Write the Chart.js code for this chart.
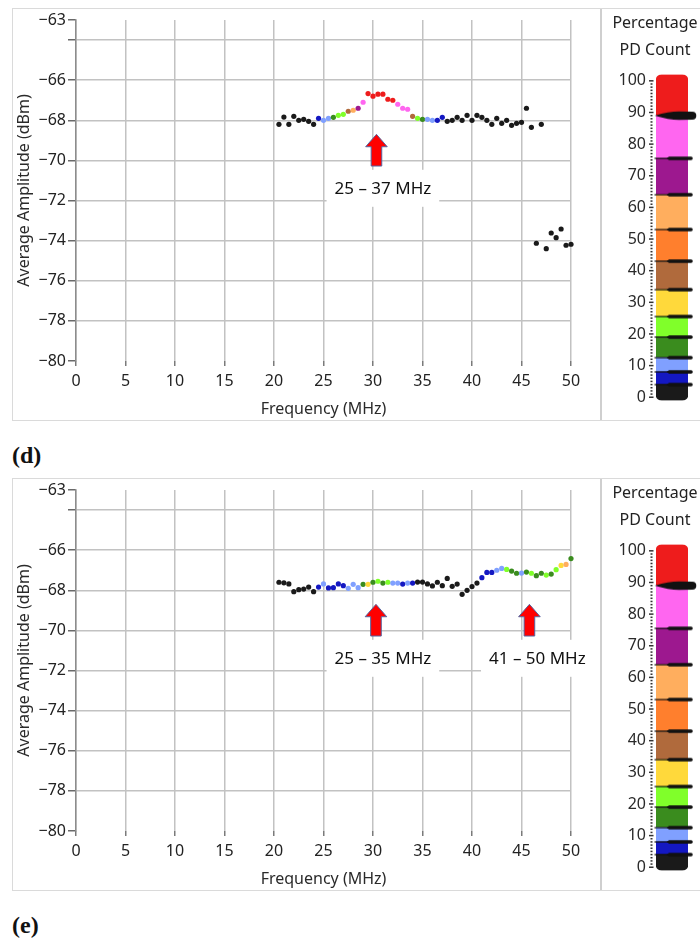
<!DOCTYPE html>
<html>
<head>
<meta charset="utf-8">
<script src="https://cdn.jsdelivr.net/npm/chart.js@4.4.1/dist/chart.umd.min.js"></script>
<style>
html,body{margin:0;padding:0;background:#fff;width:700px;height:940px;overflow:hidden;position:relative}
canvas{position:absolute}
.frame{position:absolute;left:12px;width:700px;height:413px;border:1px solid #dadada;box-sizing:border-box}
.sep{position:absolute;left:600px;width:2px;height:411px;background:#cfcfcf}
.cbtitle{position:absolute;left:601px;width:108px;text-align:center;font:16px "Noto Sans",sans-serif;line-height:27px;color:#222;white-space:nowrap}
.cap{position:absolute;left:12px;font:bold 24px "Liberation Serif","DejaVu Serif",serif;line-height:28px;color:#111}
</style>
</head>
<body>
<div class="frame" style="top:8px"></div>
<div class="sep" style="top:9px"></div>
<canvas id="mainD" width="600" height="430" style="left:0;top:0"></canvas>
<canvas id="cbD" width="98" height="412" style="left:601px;top:8px"></canvas>
<div class="cbtitle" style="top:9px">Percentage<br>PD Count</div>
<div class="cap" style="top:441px">(d)</div>

<div class="frame" style="top:478px"></div>
<div class="sep" style="top:479px"></div>
<canvas id="mainE" width="600" height="430" style="left:0;top:470px"></canvas>
<canvas id="cbE" width="98" height="412" style="left:601px;top:478px"></canvas>
<div class="cbtitle" style="top:479px">Percentage<br>PD Count</div>
<div class="cap" style="top:911px">(e)</div>

<script>
// ---------------- data ----------------
const freq = [20.5,21,21.5,22,22.5,23,23.5,24,24.5,25,25.5,26,26.5,27,27.5,28,28.5,29,29.5,30,
  30.5,31,31.5,32,32.5,33,33.5,34,34.5,35,35.5,36,36.5,37,37.5,38,38.5,39,39.5,40,
  40.5,41,41.5,42,42.5,43,43.5,44,44.5,45,45.5,46,46.5,47,47.5,48,48.5,49,49.5,50];

// panel (d): average amplitude (dBm)
const ampD = [-68.2,-67.84,-68.2,-67.8,-68.0,-67.95,-68.05,-68.2,-67.9,-68.0,
  -67.9,-67.85,-67.75,-67.7,-67.55,-67.5,-67.4,-67.1,-66.67,-66.8,
  -66.7,-66.7,-66.95,-67.0,-67.2,-67.4,-67.45,-67.8,-67.9,-67.95,
  -67.95,-68.0,-68.0,-67.85,-68.05,-68.0,-67.85,-68.0,-67.75,-68.0,
  -67.75,-67.85,-68.0,-68.2,-67.9,-68.15,-68.0,-68.25,-68.15,-68.1,
  -67.4,-68.35,-74.13,-68.2,-74.4,-73.62,-73.85,-73.42,-74.23,-74.18];
// panel (d): percentage PD count
const pctD = [1,1,1,1,1,1,1,1,6,10,
  10,16,22,22,38,58,70,82,95,95,
  95,95,95,95,82,82,82,38,22,16,
  10,10,6,6,1,1,1,1,1,1,
  1,1,1,1,1,1,1,1,1,1,
  1,1,1,1,1,1,1,1,1,1];

// panel (e): average amplitude (dBm)
const ampE = [-67.6,-67.63,-67.68,-68.07,-67.97,-67.94,-67.84,-68.07,-67.84,-67.68,
  -67.88,-67.87,-67.68,-67.77,-67.9,-67.7,-67.87,-67.7,-67.7,-67.6,
  -67.55,-67.64,-67.6,-67.64,-67.64,-67.69,-67.64,-67.64,-67.59,-67.59,
  -67.68,-67.78,-67.6,-67.77,-67.41,-67.8,-67.69,-68.2,-68.0,-67.81,
  -67.64,-67.37,-67.11,-67.11,-67.0,-66.91,-66.96,-67.04,-67.15,-67.14,
  -67.09,-67.15,-67.27,-67.15,-67.24,-67.19,-66.97,-66.76,-66.71,-66.42];
// panel (e): percentage PD count
const pctE = [1,1,1,1,1,1,1,1,6,10,
  6,6,6,6,10,10,10,16,30,16,
  22,16,22,10,10,6,10,6,1,1,
  1,1,1,1,1,1,1,1,1,1,
  1,6,6,6,10,10,22,16,16,10,
  16,22,16,16,22,16,22,30,58,16];

// axes
const xTickValues = [0,5,10,15,20,25,30,35,40,45,50];
const yTickValues = [-80,-78,-76,-74,-72,-70,-68,-66,-64,-63];
const yTickLabels = ['\u221280','\u221278','\u221276','\u221274','\u221272','\u221270','\u221268','\u221266','','\u221263'];

// colour scale (percentage PD count)
const cbEdges = [-1,4,8,12.5,19,25.5,34,43,53,64,75.5,89,102];
const cbColors = ['#1a1a1a','#1418c2','#80a0ff','#3a8c1e','#80ff2a','#ffd93b','#b06a3c','#ff7f2d','#ffae5e','#9d188f','#ff66f0','#ee1c1c'];
const cbTickValues = [0,10,20,30,40,50,60,70,80,90,100];
const cbMarkers = [4,8,12.5,19,25.5,34,43,53,64,75.5,89];
const cbPointer = 89;

// annotations
const labelsD = ['25 \u2013 37 MHz'];
const labelXD = [31.0];
const arrowXD = [30.35];
const labelsE = ['25 \u2013 35 MHz','41 \u2013 50 MHz'];
const labelXE = [31.0, 46.6];
const arrowXE = [30.3, 45.8];
const arrowTipY = -68.7, arrowBaseY = -70.28, labelY = -71.39;

// ---------------- rendering ----------------
const F = '"Noto Sans","DejaVu Sans",sans-serif';
Chart.defaults.font.family = F;

function colorFor(p){
  for (let i = 0; i < cbColors.length; i++) if (p >= cbEdges[i] && p < cbEdges[i+1]) return cbColors[i];
  return cbColors[cbColors.length-1];
}

const annotPlugin = {
  id: 'annots',
  beforeDatasetsDraw(chart, args, o) {
    const {ctx} = chart, xs = chart.scales.x, ys = chart.scales.y;
    ctx.save();
    ctx.font = '17px ' + F;
    ctx.textAlign = 'center'; ctx.textBaseline = 'middle';
    o.labels.forEach((t, i) => {
      const cx = xs.getPixelForValue(o.labelX[i]), cy = ys.getPixelForValue(o.labelY);
      const w = ctx.measureText(t).width;
      ctx.fillStyle = '#fff';
      ctx.fillRect(cx - w/2 - 8, cy - 18.5, w + 16, 37);
      ctx.fillStyle = '#111';
      ctx.fillText(t, cx, cy + 1);
    });
    o.arrowX.forEach(ax => {
      const cx = xs.getPixelForValue(ax);
      const yt = ys.getPixelForValue(o.tipY), yb = ys.getPixelForValue(o.baseY);
      const hh = 12.4, hw = 10.8, sw = 5.3;
      ctx.beginPath();
      ctx.moveTo(cx, yt);
      ctx.lineTo(cx + hw, yt + hh);
      ctx.lineTo(cx + sw, yt + hh);
      ctx.lineTo(cx + sw, yb);
      ctx.lineTo(cx - sw, yb);
      ctx.lineTo(cx - sw, yt + hh);
      ctx.lineTo(cx - hw, yt + hh);
      ctx.closePath();
      ctx.fillStyle = '#ff0000';
      ctx.fill();
      ctx.lineWidth = 1;
      ctx.strokeStyle = '#5565a0';
      ctx.stroke();
    });
    ctx.restore();
  }
};

function makeMain(id, amp, pct, labels, labelX, arrowX) {
  const pts = freq.map((f, i) => ({x: f, y: amp[i]}));
  new Chart(document.getElementById(id), {
    type: 'scatter',
    data: { datasets: [{
      data: pts,
      pointRadius: 2.6,
      pointBorderWidth: 0,
      pointBackgroundColor: pct.map(colorFor),
      clip: false
    }]},
    plugins: [annotPlugin],
    options: {
      responsive: false, animation: false, events: [],
      layout: { padding: {left: 0, right: 29, top: 20, bottom: 0} },
      plugins: {
        legend: {display: false}, tooltip: {enabled: false},
        annots: {labels, labelX, arrowX, tipY: arrowTipY, baseY: arrowBaseY, labelY}
      },
      scales: {
        x: {
          type: 'linear', min: 0, max: 50, position: 'bottom',
          afterBuildTicks: s => { s.ticks = xTickValues.map(v => ({value: v})); },
          ticks: {callback: v => String(v), font: {size: 16}, color: '#222', padding: 6, maxRotation: 0, autoSkip: false},
          grid: {color: '#c2c2c2', lineWidth: 1.5, tickLength: 5, tickColor: '#7a7a7a', tickWidth: 1.5},
          border: {display: false},
          title: {display: true, text: 'Frequency (MHz)', font: {size: 16}, color: '#2a2a2a', padding: {top: 0, bottom: 11}},
          afterFit: s => { s.height = 69; }
        },
        y: {
          type: 'linear', min: -80, max: -63,
          afterBuildTicks: s => { s.ticks = yTickValues.map(v => ({value: v})); },
          ticks: {callback: v => yTickLabels[yTickValues.indexOf(v)], font: {size: 16}, color: '#222', padding: 2, autoSkip: false},
          grid: {
            color: c => (c.tick && (c.tick.value === -63 || c.tick.value === -80)) ? 'rgba(0,0,0,0)' : '#c2c2c2',
            lineWidth: 1.5, tickLength: 8, tickColor: '#6a6a6a', tickWidth: 1.5
          },
          border: {display: true, color: '#8c8c8c', width: 1.5},
          title: {display: true, text: 'Average Amplitude (dBm)', font: {size: 16}, color: '#2a2a2a', padding: {top: 15, bottom: 4}},
          afterFit: s => { s.width = 76; }
        }
      }
    }
  });
}

function markerImage(big) {
  const c = document.createElement('canvas');
  const g = c.getContext('2d');
  if (big) {
    c.width = 50; c.height = 12;
    g.fillStyle = '#111';
    g.beginPath();
    g.moveTo(7.7, 6);
    g.quadraticCurveTo(22, 1.8, 32, 1.8);
    g.lineTo(45.3, 2);
    g.arc(45.3, 6, 4, -Math.PI/2, Math.PI/2);
    g.lineTo(32, 10.2);
    g.quadraticCurveTo(22, 10.2, 7.7, 6);
    g.closePath();
    g.fill();
  } else {
    c.width = 44; c.height = 6;
    g.fillStyle = '#111';
    g.fillRect(4.5, 2.4, 34, 1.2);
    g.beginPath();
    g.moveTo(16.5, 3);
    g.lineTo(19, 1.2);
    g.lineTo(41, 1.2);
    g.arc(41, 3, 1.8, -Math.PI/2, Math.PI/2);
    g.lineTo(19, 4.8);
    g.closePath();
    g.fill();
  }
  return c;
}

const cbTickPlugin = {
  id: 'cbticks',
  afterDraw(chart) {
    const s = chart.scales.y, ctx = chart.ctx, L = chart.chartArea.left;
    ctx.save();
    ctx.fillStyle = '#333';
    for (let v = 0; v <= 100; v++) {
      const py = s.getPixelForValue(v);
      if (v % 10 === 0) ctx.fillRect(L - 7, py - 0.75, 4.5, 1.5);
      else ctx.fillRect(L - 5.5, py - 0.75, 2, 1.5);
    }
    ctx.restore();
  }
};

function makeColorbar(id) {
  const bigImg = markerImage(true), smallImg = markerImage(false);
  const last = cbColors.length - 1;
  const segs = cbColors.map((c, i) => ({
    type: 'bar',
    data: [[cbEdges[i], cbEdges[i+1]]],
    backgroundColor: c,
    grouped: false,
    barPercentage: 1, categoryPercentage: 1,
    borderSkipped: false,
    borderRadius: i === 0 ? {bottomLeft: 6, bottomRight: 6, topLeft: 0, topRight: 0}
                 : i === last ? {topLeft: 6, topRight: 6, bottomLeft: 0, bottomRight: 0} : 0,
    order: 1
  }));
  segs.push({
    type: 'line',
    data: cbMarkers.map(v => ({x: 'PD', y: v})),
    showLine: false,
    pointStyle: cbMarkers.map(v => v === cbPointer ? bigImg : smallImg),
    pointRadius: 10,
    clip: false,
    order: -1
  });
  new Chart(document.getElementById(id), {
    type: 'bar',
    data: {labels: ['PD'], datasets: segs},
    plugins: [cbTickPlugin],
    options: {
      responsive: false, animation: false, events: [],
      layout: {padding: {left: 0, right: 7, top: 66.5, bottom: 11.8}},
      plugins: {legend: {display: false}, tooltip: {enabled: false}},
      scales: {
        x: {display: false},
        y: {
          min: -1, max: 102,
          afterBuildTicks: s => { s.ticks = cbTickValues.map(v => ({value: v})); },
          ticks: {callback: v => String(v), font: {size: 16}, color: '#2a2a2a', padding: 10, autoSkip: false},
          grid: {display: false, drawTicks: false},
          border: {display: false},
          afterFit: s => { s.width = 55; }
        }
      }
    }
  });
}

makeMain('mainD', ampD, pctD, labelsD, labelXD, arrowXD);
makeMain('mainE', ampE, pctE, labelsE, labelXE, arrowXE);
makeColorbar('cbD');
makeColorbar('cbE');
</script>
</body>
</html>
